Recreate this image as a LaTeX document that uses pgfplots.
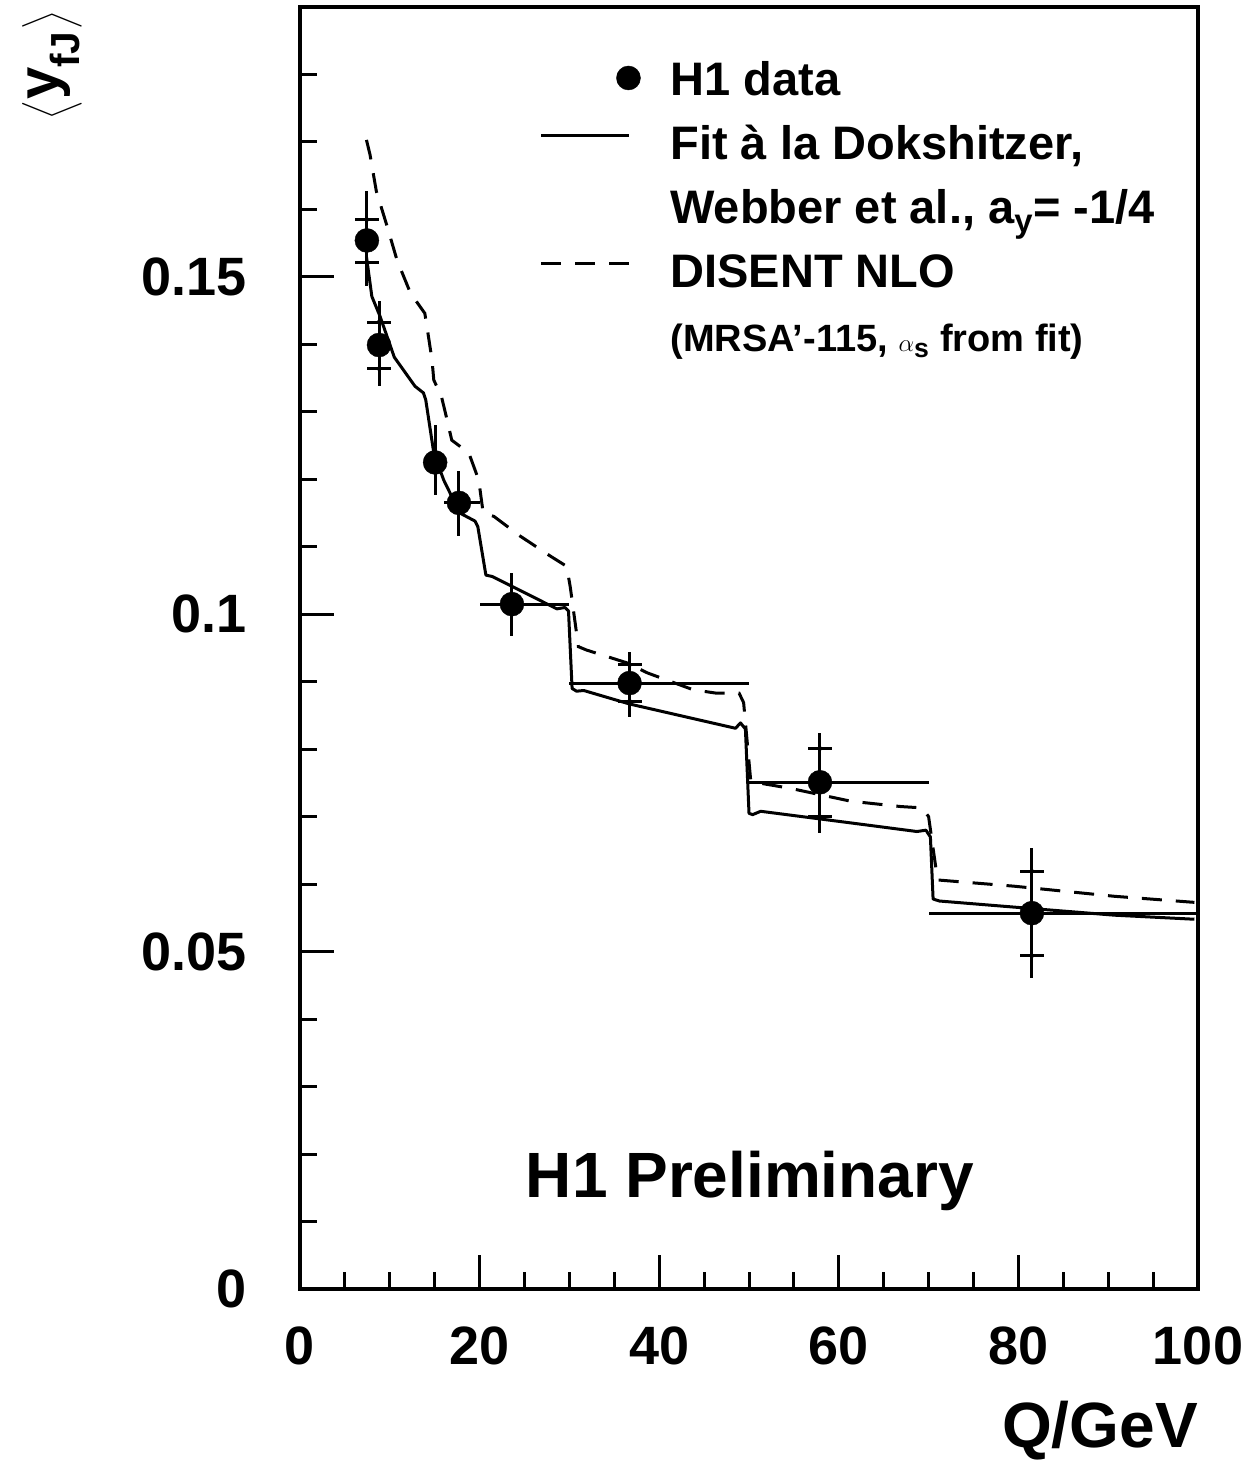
\documentclass[border=0pt]{standalone}
\usepackage{exscale}
\usepackage{fontspec}
\setmainfont{Liberation Sans}
\usepackage{pgfplots}
\usepackage{pgfplotstable}
\pgfplotsset{compat=1.18}

% Q, <y_fJ>, total error (+/-), bin half-widths (+/-)
\pgfplotstableread{
Q Y tp tm xp xm
7.45 0.1554 0.0073 0.0067 0 0
8.8 0.1399 0.0065 0.0061 0 0
15.05 0.1225 0.0055 0.0049 0 0
17.7 0.1165 0.0048 0.0049 2.37 1.65
23.6 0.1015 0.0046 0.0047 6.4 3.53
36.7 0.0898 0.0046 0.0050 13.3 6.7
57.9 0.0751 0.0073 0.0075 12.1 7.9
81.5 0.0557 0.0096 0.0096 18.5 11.5
}\data

% ends of the statistical errors
\pgfplotstableread{
Q Y
7.45 0.1585
7.45 0.1521
8.8 0.1433
8.8 0.1364
36.7 0.0925
36.7 0.0871
57.9 0.0801
57.9 0.0700
81.5 0.0619
81.5 0.0494
}\caps

\pgfplotsset{
  markleg/.style={legend image code/.code={\path[draw=none,fill=none] (0pt,0pt) -- (101pt,0pt);\draw[##1] plot coordinates {(87pt,6pt)};}},
  lineleg/.style={legend image code/.code={\path[draw=none,fill=none] (0pt,0pt) -- (101pt,0pt);\draw[##1] (0pt,12pt) -- (88pt,12pt);}},
  emptyleg/.style={legend image code/.code={\path[draw=none,fill=none] (0pt,0pt) -- (101pt,0pt);}},
}

\begin{document}
\begin{tikzpicture}
\begin{axis}[
  name=ax,
  scale only axis,
  width=898pt, height=1282pt,
  xmin=0, xmax=100, ymin=0, ymax=0.19,
  axis line style={line width=3.5pt},
  tick pos=left, tick align=inside,
  major tick length=34pt, minor tick length=17pt,
  every tick/.style={line width=3pt, black},
  xtick={0,20,40,60,80,100},
  minor xtick={5,10,15,25,30,35,45,50,55,65,70,75,85,90,95},
  ytick={0,0.05,0.1,0.15},
  yticklabels={0,0.05,0.1,0.15},
  minor ytick={0.01,0.02,0.03,0.04,0.06,0.07,0.08,0.09,0.11,0.12,0.13,0.14,0.16,0.17,0.18},
  scaled y ticks=false,
  /pgf/number format/assume math mode=true,
  tick label style={font=\fontsize{54}{58}\selectfont\bfseries},
  xticklabel style={anchor=north, inner sep=0pt, yshift=-38pt},
  yticklabel style={anchor=east, inner sep=0pt, xshift=-53pt},
  xlabel={Q/GeV},
  xlabel style={at={(rel axis cs:1,0)}, anchor=base east, inner sep=0pt, yshift=-158pt, font=\fontsize{64}{70}\selectfont\bfseries},
  ylabel={\(\left\langle\vrule height 36pt depth 17pt width 0pt\right.\)y\textsubscript{fJ}\(\left.\vrule height 36pt depth 17pt width 0pt\right\rangle\)},
  ylabel style={at={([xshift=-278pt,yshift=-4pt]rel axis cs:0,1)}, anchor=north east, inner sep=0pt, font=\fontsize{58}{62}\selectfont\bfseries},
  legend cell align=left,
  legend style={at={(axis cs:26.7,0.1821)}, anchor=north west, draw=none, fill=none,
    inner sep=0pt, row sep=17pt,
    font=\fontsize{47}{50}\selectfont\bfseries,
    nodes={inner sep=0pt, text height=35pt, text depth=12pt},
    /tikz/every odd column/.append style={column sep=28pt}},
]
% total errors and bin widths
\addplot[forget plot, only marks, mark=none, black,
  error bars/.cd, x dir=both, x explicit, y dir=both, y explicit,
  error mark=none, error bar style={line width=3pt, black}]
  table[x=Q, y=Y, x error plus=xp, x error minus=xm, y error plus=tp, y error minus=tm] {\data};
% ticks at the ends of the statistical errors
\addplot[forget plot, only marks, mark=none, black,
  error bars/.cd, x dir=both, x fixed=1.34,
  error mark=none, error bar style={line width=3pt, black}]
  table[x=Q, y=Y] {\caps};

\addplot[only marks, mark=*, mark size=12pt, black, markleg]
  table[x=Q, y=Y] {\data};
\addlegendentry{H1 data}

\addplot[black, line width=3pt, line join=round, lineleg]
  coordinates {
(7.4,0.1530)(8.0,0.1471)(8.9,0.1442)(10.5,0.1381)(12.8,0.1338)(13.75,0.1328)
(14.0,0.1318)(14.9,0.1239)(16.0,0.1199)(17.8,0.1150)(19.5,0.1138)(19.8,0.1130)
(20.7,0.1058)(21.4,0.1056)(28.6,0.1008)(29.5,0.1010)(29.9,0.1005)(30.3,0.0890)
(30.8,0.0886)(31.6,0.0887)(36.7,0.0867)(48.5,0.0831)(49.05,0.0839)(49.6,0.0830)
(50.0,0.0705)(50.4,0.0703)(51.3,0.0708)(61.2,0.0691)(68.7,0.0678)(69.7,0.0680)
(70.2,0.0670)(70.5,0.0578)(71.2,0.0575)(79.5,0.0566)(90.7,0.0554)(99.6,0.0548)
  };
\addlegendentry{Fit à la Dokshitzer,}

\addlegendimage{emptyleg}
\addlegendentry{Webber et al., a\textsubscript{y}= -1/4}

\addplot[black, line width=3pt, dash pattern=on 20pt off 14pt, lineleg]
  coordinates {
(7.4,0.1703)(7.8,0.1681)(8.5,0.1627)(9.7,0.1575)(10.8,0.1525)(12.3,0.1476)
(13.9,0.1446)(14.3,0.1412)(14.7,0.1377)(14.9,0.1347)(15.4,0.1333)(15.6,0.1331)
(16.2,0.1298)(16.9,0.1258)(18.8,0.1239)(19.9,0.1199)(20.4,0.1150)(21.6,0.1145)
(24.5,0.1116)(27.9,0.1086)(29.7,0.1071)(30.1,0.1040)(31.0,0.0952)(31.9,0.0947)
(36.4,0.0928)(38.7,0.0913)(43.8,0.0888)(46.4,0.0883)(48.9,0.0883)(49.4,0.0869)
(50.2,0.0752)(54.6,0.0742)(61.3,0.0723)(66.9,0.0715)(69.3,0.0713)(70.0,0.0700)
(71.0,0.0606)(71.2,0.0606)(79.5,0.0597)(90.7,0.0582)(99.6,0.0573)
  };
\addlegendentry{DISENT NLO}

\addlegendimage{emptyleg}
\addlegendentry{\fontsize{38}{42}\selectfont (MRSA'-115, \(\alpha\)\textsubscript{s} from fit)}

\node[font=\fontsize{64}{70}\selectfont\bfseries, anchor=base, inner sep=0pt] at (axis cs:50.1,0.0135) {H1 Preliminary};
\end{axis}
\path ([xshift=-300pt,yshift=-173pt]ax.south west) rectangle ([xshift=54pt,yshift=7pt]ax.north east);
\end{tikzpicture}
\end{document}
